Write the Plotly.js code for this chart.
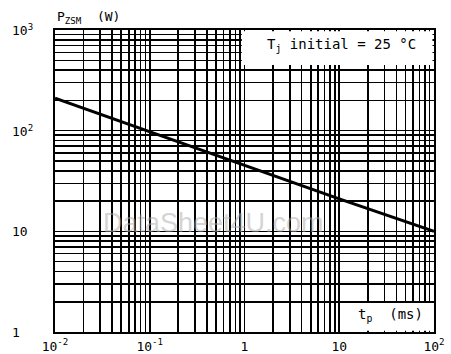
<!DOCTYPE html>
<html><head><meta charset="utf-8">
<script src="https://cdn.plot.ly/plotly-3.0.1.min.js"></script>
<style>body{margin:0;background:#fff}#chart{width:451px;height:354px}</style>
</head><body><div id="chart"></div>
<script>
// Data
const tp = [0.01, 0.1, 1, 10, 100];          // pulse duration t_p (ms)
const pzsm = [210, 97, 45, 21, 10];           // P_ZSM (W)
const xTickVals = [0.01, 0.1, 1, 10, 100];
const xTickText = ['10<sup>-2</sup>', '10<sup>-1</sup>', '1', '10', '10<sup>2</sup>'];
const yTickVals = [1, 10, 100, 1000];
const yTickText = ['1', '10', '10<sup>2</sup>', '10<sup>3</sup>'];

const FONT = 'DejaVu Sans Mono, monospace';

const ann = yTickVals.map((v, i) => ({
  xref: 'paper', yref: 'y', x: 0, y: Math.log10(v), xshift: -45,
  xanchor: 'left', yanchor: 'middle', showarrow: false,
  text: yTickText[i], font: {family: FONT, size: 13, color: '#000'}
}));
ann.push({xref:'paper', yref:'paper', x:0, y:1, xanchor:'left', yanchor:'bottom', yshift:2,
  showarrow:false, text:'P<sub>ZSM</sub>  (W)', font:{family:FONT, size:13, color:'#000'}});
ann.push({xref:'paper', yref:'paper', x:0.757, y:0.95, xanchor:'center', yanchor:'middle',
  showarrow:false, text:'T<sub>j</sub> initial = 25 °C', font:{family:FONT, size:14, color:'#000'}});
ann.push({xref:'paper', yref:'paper', x:0.885, y:0.055, xanchor:'center', yanchor:'middle',
  showarrow:false, text:'t<sub>p</sub>  (ms)', font:{family:FONT, size:14, color:'#000'}});
ann.push({xref:'paper', yref:'paper', x:0.417, y:0.36, xanchor:'center', yanchor:'middle',
  showarrow:false, text:'DataSheet4U.com', font:{family:'Liberation Sans, Arial, sans-serif', size:27, color:'rgba(170,170,170,0.5)'}});

const axisCommon = {
  type: 'log', showline: true, mirror: true, linecolor: '#000', linewidth: 2,
  showgrid: true, gridcolor: '#000', gridwidth: 1.6, zeroline: false,
  minor: {dtick: 'D1', showgrid: true, gridcolor: '#000', gridwidth: 1.6, ticks: ''},
  tickfont: {family: FONT, size: 13, color: '#000'}, fixedrange: true
};

const layout = {
  width: 451, height: 354,
  margin: {l: 55, r: 17, t: 30, b: 22},
  paper_bgcolor: '#fff', plot_bgcolor: '#fff',
  showlegend: false,
  xaxis: Object.assign({}, axisCommon, {
    range: [-2, 2], dtick: 1, tickvals: xTickVals, ticktext: xTickText,
    ticks: '', ticklabelstandoff: 1
  }),
  yaxis: Object.assign({}, axisCommon, {
    range: [0, 3], dtick: 1, tickvals: yTickVals, showticklabels: false
  }),
  shapes: [
    {type:'rect', xref:'paper', yref:'paper', x0:0.493, x1:0.996, y0:0.884, y1:0.996,
     fillcolor:'#fff', line:{width:0}, layer:'above'},
    {type:'rect', xref:'paper', yref:'paper', x0:0.763, x1:0.996, y0:0.004, y1:0.096,
     fillcolor:'#fff', line:{width:0}, layer:'above'}
  ],
  annotations: ann
};

Plotly.newPlot('chart', [{
  x: tp, y: pzsm, type: 'scatter', mode: 'lines',
  line: {color: '#000', width: 3}, hoverinfo: 'skip'
}], layout, {displayModeBar: false, staticPlot: true});
</script>
</body></html>
